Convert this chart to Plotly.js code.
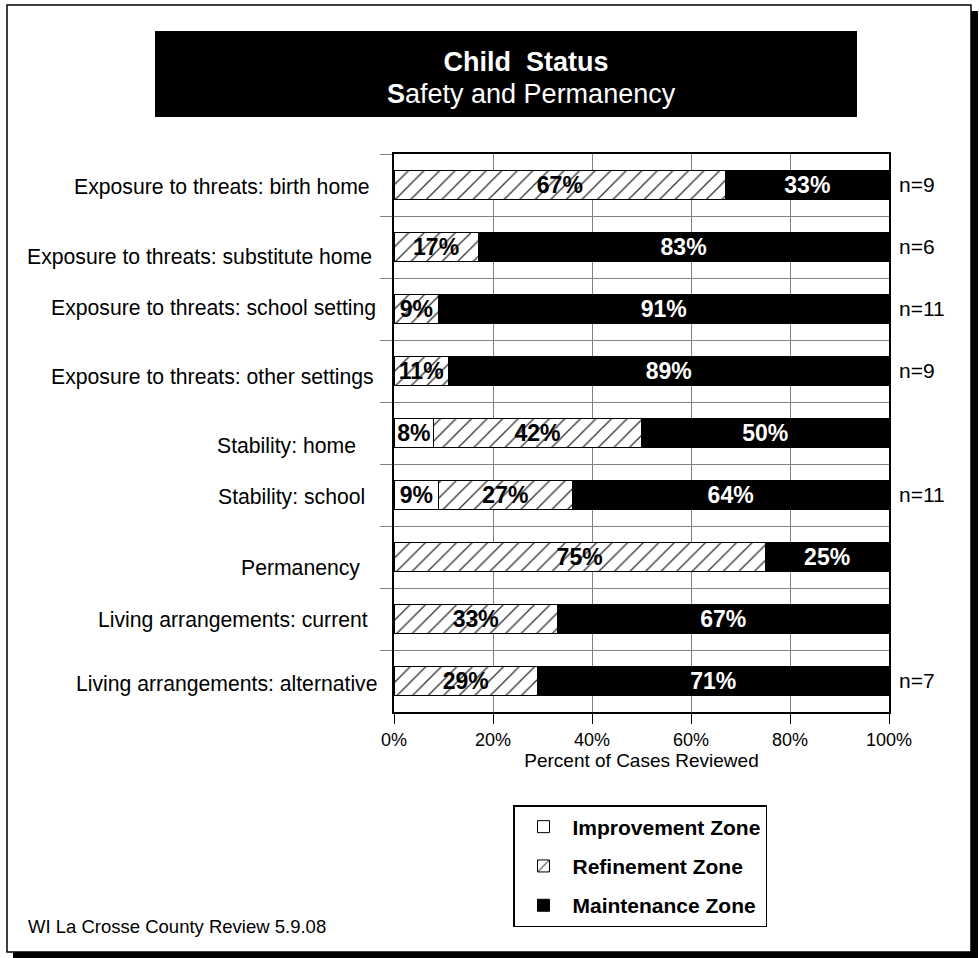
<!DOCTYPE html>
<html><head><meta charset="utf-8">
<script src="https://cdn.plot.ly/plotly-3.0.1.min.js"></script>
<style>body{margin:0;background:#fff}</style>
</head><body><div id="chart" style="width:979px;height:958px"></div>
<script>
// ---- data ----
const categories = [
  "Exposure to threats: birth home",
  "Exposure to threats: substitute home",
  "Exposure to threats: school setting",
  "Exposure to threats: other settings",
  "Stability: home",
  "Stability: school",
  "Permanency",
  "Living arrangements: current",
  "Living arrangements: alternative"
];
const improvement = [0, 0, 0, 0, 8, 9, 0, 0, 0];
const refinement  = [67, 17, 9, 11, 42, 27, 75, 33, 29];
const maintenance = [33, 83, 91, 89, 50, 64, 25, 67, 71];
const caseCounts  = [9, 6, 11, 9, null, 11, null, null, 7];
const seriesNames = ["Improvement Zone", "Refinement Zone", "Maintenance Zone"];
const tickValues = [0, 20, 40, 60, 80, 100];
const tickLabels = ["0%", "20%", "40%", "60%", "80%", "100%"];
const chartTitle = "Child\u00A0\u00A0Status";
const chartSubtitle = "<b>S</b>afety and Permanency";
const xAxisTitle = "Percent of Cases Reviewed";
const footer = "WI La Crosse County Review 5.9.08";

// ---- layout helpers (pixel -> paper) ----
const W = 979, H = 958, L = 394, R = 889, T = 154, B = 712;
const px = x => (x - L) / (R - L);
const py = y => (B - y) / (B - T);
const FONT = "Liberation Sans, Arial, sans-serif";
// label placement nudges (right edge in px, vertical shift in px)
const labelRight = [372, 374, 378, 376, 358, 367, 362, 370, 380];
const labelShift = [-2, -10, 1, -6, -13, -2, -11, -1, -3];

const pct = arr => arr.map(v => v > 0 ? v + "%" : "");
const nz = arr => arr.map(v => v > 0 ? v : null);

const common = {
  type: "bar", orientation: "h", y: categories, width: 0.48,
  textposition: "inside", insidetextanchor: "middle", constraintext: "none",
  hoverinfo: "skip"
};

const traces = [
  Object.assign({}, common, {
    name: seriesNames[0], legendgroup: "a", x: nz(improvement), text: pct(improvement),
    marker: {color: "#ffffff", line: {color: "#000", width: 1}},
    textfont: {family: FONT, size: 23, color: "#000", weight: "bold"}
  }),
  Object.assign({}, common, {
    name: seriesNames[1], legendgroup: "b", x: nz(refinement), text: pct(refinement),
    marker: {color: "#ffffff", line: {color: "#000", width: 1},
      pattern: {shape: "/", size: 11, solidity: 0.12, fgcolor: "#333", bgcolor: "#ffffff"}},
    textfont: {family: FONT, size: 23, color: "#000", weight: "bold"}
  }),
  Object.assign({}, common, {
    name: seriesNames[2], legendgroup: "c", x: nz(maintenance), text: pct(maintenance),
    marker: {color: "#000000", line: {color: "#000", width: 1}},
    textfont: {family: FONT, size: 23, color: "#fff", weight: "bold"}
  })
];

const annotations = [];
categories.forEach((c, i) => {
  annotations.push({
    text: c, xref: "paper", yref: "y", x: px(labelRight[i]), y: c,
    xanchor: "right", yanchor: "middle", yshift: labelShift[i], showarrow: false,
    font: {family: FONT, size: 21.2, color: "#000"}
  });
  if (caseCounts[i] != null) {
    annotations.push({
      text: "n=" + caseCounts[i], xref: "paper", yref: "y", x: 1, y: c,
      xanchor: "left", yanchor: "middle", xshift: 8, yshift: 1, showarrow: false,
      font: {family: FONT, size: 21, color: "#000"}
    });
  }
});
annotations.push({
  text: chartSubtitle, xref: "paper", yref: "paper", x: px(531), y: py(94),
  xanchor: "center", yanchor: "middle", showarrow: false,
  font: {family: FONT, size: 27, color: "#fff"}
});
annotations.push({
  text: footer, xref: "paper", yref: "paper", x: px(26), y: py(926),
  xanchor: "left", yanchor: "middle", showarrow: false,
  font: {family: FONT, size: 18.5, color: "#000"}
});

const shapes = [
  {type: "rect", xref: "paper", yref: "paper", x0: px(971), x1: px(978), y0: py(11), y1: py(958),
   fillcolor: "#000", line: {width: 0}, layer: "below"},
  {type: "rect", xref: "paper", yref: "paper", x0: px(13), x1: px(978), y0: py(952), y1: py(958),
   fillcolor: "#000", line: {width: 0}, layer: "below"},
  {type: "rect", xref: "paper", yref: "paper", x0: px(7), x1: px(971), y0: py(5), y1: py(952),
   line: {color: "#000", width: 1.5}, layer: "below"},
  {type: "rect", xref: "paper", yref: "paper", x0: px(155), x1: px(857), y0: py(31), y1: py(117),
   fillcolor: "#000", line: {width: 0}, layer: "below"}
];

const layout = {
  width: W, height: H, autosize: false,
  margin: {l: L, r: W - R, t: T, b: H - B, pad: 0},
  paper_bgcolor: "#fff", plot_bgcolor: "#fff",
  font: {family: FONT, color: "#000"},
  barmode: "stack", bargap: 0.52,
  title: {text: "<b>" + chartTitle + "</b>", xref: "paper", x: px(526), xanchor: "center",
    yref: "container", y: 1 - 62 / H, yanchor: "middle",
    font: {family: FONT, size: 27, color: "#fff"}},
  xaxis: {
    range: [0, 100], tickvals: tickValues, ticktext: tickLabels,
    ticks: "outside", ticklen: 10, tickcolor: "#000", tickwidth: 1,
    showgrid: true, gridcolor: "#808080", gridwidth: 1, zeroline: false,
    showline: true, linecolor: "#000", linewidth: 2, mirror: true,
    tickfont: {family: FONT, size: 18, color: "#000"},
    title: {text: xAxisTitle, standoff: 2, font: {family: FONT, size: 19, color: "#000"}},
    fixedrange: true
  },
  yaxis: {
    type: "category", categoryorder: "array", categoryarray: categories,
    autorange: false, range: [categories.length - 0.5, -0.5],
    tickson: "boundaries", ticks: "outside", ticklen: 12, tickcolor: "#808080", tickwidth: 1,
    showticklabels: false,
    showgrid: true, gridcolor: "#808080", gridwidth: 1, zeroline: false,
    showline: true, linecolor: "#000", linewidth: 2, mirror: true,
    fixedrange: true
  },
  showlegend: true,
  legend: {
    x: px(513), y: py(805), xanchor: "left", yanchor: "top",
    xref: "paper", yref: "paper",
    bgcolor: "#fff", bordercolor: "#000", borderwidth: 1.5,
    font: {family: FONT, size: 21, color: "#000", weight: "bold"},
    traceorder: "grouped", tracegroupgap: 9, itemwidth: 48,
    itemclick: false, itemdoubleclick: false
  },
  annotations: annotations,
  shapes: shapes
};

Plotly.newPlot("chart", traces, layout, {staticPlot: true, displayModeBar: false});
</script></body></html>
